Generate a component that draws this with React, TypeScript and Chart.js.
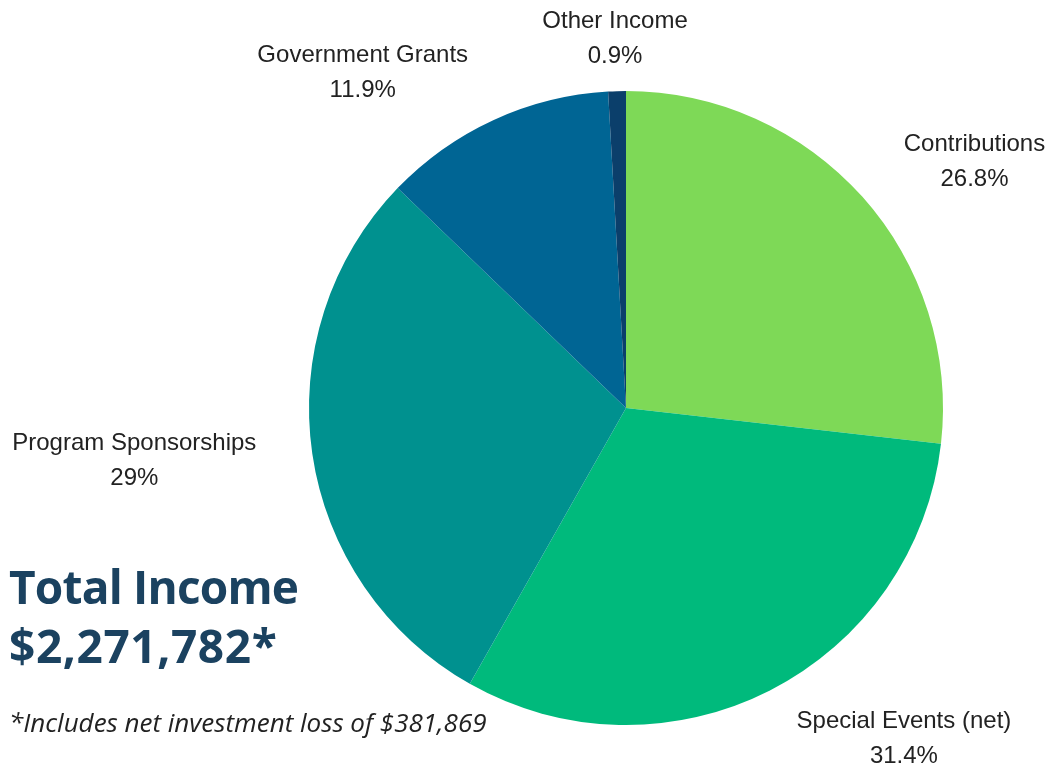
import React, { useEffect, useRef } from "react";
import { Chart, registerables } from "chart.js";

Chart.register(...registerables);

const categories = [
  "Contributions",
  "Special Events (net)",
  "Program Sponsorships",
  "Government Grants",
  "Other Income",
];
const shares = [26.8, 31.4, 29, 11.9, 0.9];
const shareLabels = ["26.8%", "31.4%", "29%", "11.9%", "0.9%"];
const sliceColors = ["#7ED957", "#00BA7C", "#00918F", "#006594", "#0B3F6B"];

// label offsets relative to the outer mid-point of each slice (style only)
const labelOffsets = [
  [112, -35],
  [134, 48],
  [-178, 7],
  [-131, -48],
  [-2, -53],
];

const labelPlugin = {
  id: "outerLabels",
  afterDraw(chart: any) {
    const ctx = chart.ctx;
    const meta = chart.getDatasetMeta(0);
    ctx.save();
    ctx.font = "24px 'Liberation Sans', Arial, sans-serif";
    ctx.fillStyle = "#222222";
    ctx.textAlign = "center";
    ctx.textBaseline = "middle";
    meta.data.forEach((arc: any, i: number) => {
      const p = arc.getProps(["x", "y", "startAngle", "endAngle", "outerRadius"], true);
      const mid = (p.startAngle + p.endAngle) / 2;
      const ox = p.x + Math.cos(mid) * p.outerRadius;
      const oy = p.y + Math.sin(mid) * p.outerRadius;
      const cx = ox + labelOffsets[i][0];
      const cy = oy + labelOffsets[i][1];
      ctx.fillText(categories[i], cx, cy - 17);
      ctx.fillText(shareLabels[i], cx, cy + 18);
    });
    ctx.restore();
  },
};

export default function App() {
  const ref = useRef<HTMLCanvasElement | null>(null);
  useEffect(() => {
    if (!ref.current) return;
    const chart = new Chart(ref.current, {
      type: "pie",
      data: {
        labels: categories,
        datasets: [
          {
            data: shares,
            backgroundColor: sliceColors,
            borderWidth: 0,
          },
        ],
      },
      options: {
        responsive: false,
        animation: false,
        devicePixelRatio: 1,
        layout: { padding: { left: 309, right: 106, top: 91, bottom: 45 } },
        plugins: {
          legend: { display: false },
          tooltip: { enabled: false },
        },
      },
      plugins: [labelPlugin],
    });
    return () => chart.destroy();
  }, []);

  return (
    <div style={{ position: "fixed", left: 0, top: 0, width: 1049, height: 770, background: "#fff" }}>
      <canvas ref={ref} width={1049} height={770} style={{ position: "absolute", left: 0, top: 0 }} />
      <div
        style={{
          position: "absolute",
          left: 9,
          top: 557,
          fontFamily: "'Open Sans', 'Noto Sans', sans-serif",
          fontWeight: 700,
          fontSize: 46,
          lineHeight: "59px",
          color: "#1B4260",
          whiteSpace: "nowrap",
        }}
      >
        <div style={{ letterSpacing: "-0.8px" }}>Total Income</div>
        <div style={{ letterSpacing: "0.6px" }}>$2,271,782*</div>
      </div>
      <div
        style={{
          position: "absolute",
          left: 9,
          top: 704,
          fontFamily: "'Open Sans', 'Noto Sans', sans-serif",
          fontStyle: "italic",
          fontSize: 26,
          color: "#222222",
          whiteSpace: "nowrap",
        }}
      >
        *Includes net investment loss of $381,869
      </div>
    </div>
  );
}
